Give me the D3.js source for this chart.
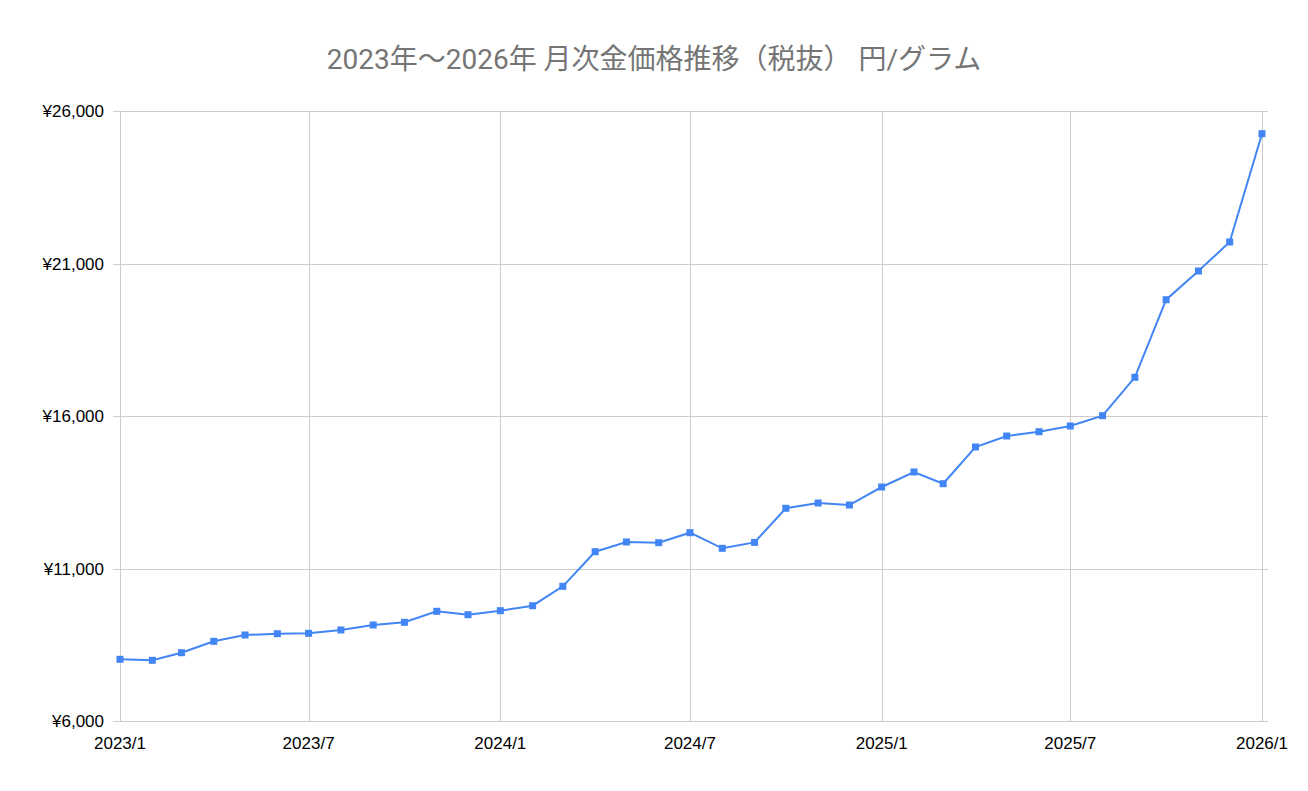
<!DOCTYPE html>
<html><head><meta charset="utf-8">
<script src="https://cdn.jsdelivr.net/npm/d3@7"></script>
<style>body{margin:0;background:#fff;}svg{display:block;}</style>
</head><body>
<svg id="c" width="1308" height="791"></svg>
<script>
const months = ["2023/1","2023/2","2023/3","2023/4","2023/5","2023/6","2023/7","2023/8","2023/9","2023/10","2023/11","2023/12",
"2024/1","2024/2","2024/3","2024/4","2024/5","2024/6","2024/7","2024/8","2024/9","2024/10","2024/11","2024/12",
"2025/1","2025/2","2025/3","2025/4","2025/5","2025/6","2025/7","2025/8","2025/9","2025/10","2025/11","2025/12","2026/1"];
const prices = [8023,7990,8239,8613,8820,8862,8875,8984,9148,9236,9597,9485,
9616,9780,10416,11551,11869,11846,12174,11662,11856,12974,13148,13082,
13672,14164,13780,14984,15344,15485,15672,16010,17269,19813,20754,21705,25256];
const xTickLabels = ["2023/1","2023/7","2024/1","2024/7","2025/1","2025/7","2026/1"];
const yTicks = [6000,11000,16000,21000,26000];
const title = "2023年～2026年 月次金価格推移（税抜） 円/グラム";

const parse = s => { const [y,m] = s.split("/").map(Number); return new Date(y, m-1, 1); };
const data = months.map((m,i)=>({d:parse(m), v:prices[i]}));

const svg = d3.select("#c");
const L=120, R=1262, T=111, B=721;
const x = d3.scaleTime().domain([parse(months[0]), parse(months[months.length-1])]).range([L,R]);
const y = d3.scaleLinear().domain([6000,26000]).range([B,T]);

svg.append("text").attr("x",654).attr("y",69).attr("text-anchor","middle")
  .attr("font-family","Roboto, 'Noto Sans CJK JP', sans-serif").attr("font-size",28).attr("fill","#757575").text(title);

const g = svg.append("g");
g.selectAll("line.h").data(yTicks).join("line")
  .attr("x1",113).attr("x2",1268).attr("y1",d=>Math.round(y(d))+0.5).attr("y2",d=>Math.round(y(d))+0.5)
  .attr("stroke","#cccccc").attr("stroke-width",1);
g.selectAll("line.v").data(xTickLabels).join("line")
  .attr("x1",d=>Math.round(x(parse(d)))+0.5).attr("x2",d=>Math.round(x(parse(d)))+0.5)
  .attr("y1",T).attr("y2",B+1).attr("stroke","#cccccc").attr("stroke-width",1);

const fmt = d => "¥" + d3.format(",")(d);
g.selectAll("text.y").data(yTicks).join("text")
  .attr("x",104).attr("y",d=>y(d)+6).attr("text-anchor","end")
  .attr("font-family","'Liberation Sans', Arial, sans-serif").attr("font-size",17).attr("fill","#000")
  .text(fmt);
g.selectAll("text.x").data(xTickLabels).join("text")
  .attr("x",d=>x(parse(d))).attr("y",749).attr("text-anchor","middle")
  .attr("font-family","'Liberation Sans', Arial, sans-serif").attr("font-size",17).attr("fill","#000")
  .text(d=>d);

const line = d3.line().x(d=>x(d.d)).y(d=>y(d.v));
svg.append("path").datum(data).attr("d",line).attr("fill","none").attr("stroke","#4285f4").attr("stroke-width",2);
svg.selectAll("rect.m").data(data).join("rect")
  .attr("x",d=>x(d.d)-3.5).attr("y",d=>y(d.v)-3.5).attr("width",7).attr("height",7).attr("fill","#4285f4");
</script>
</body></html>
